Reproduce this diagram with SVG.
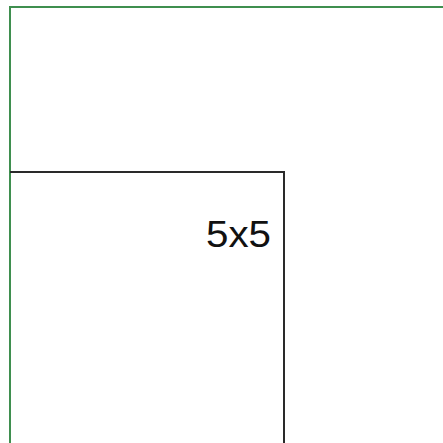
<svg xmlns="http://www.w3.org/2000/svg" width="443" height="443" viewBox="0 0 443 443">
<style>
.outer{fill:none;stroke:#3f8f4f;stroke-width:2}
.inner{fill:none;stroke:#2a2a2a;stroke-width:2}
.lbl{font-family:"Liberation Sans",Arial,sans-serif;font-size:37px;fill:#111}
</style>
<rect width="443" height="443" fill="#ffffff"/>
<g id="outer">
<path class="outer" d="M10,450 V7 H450"/>
</g>
<g id="inner">
<path class="inner" d="M10,172 H284 V450"/>
<text class="lbl" x="206" y="247" textLength="65" lengthAdjust="spacingAndGlyphs">5x5</text>
</g>
</svg>
